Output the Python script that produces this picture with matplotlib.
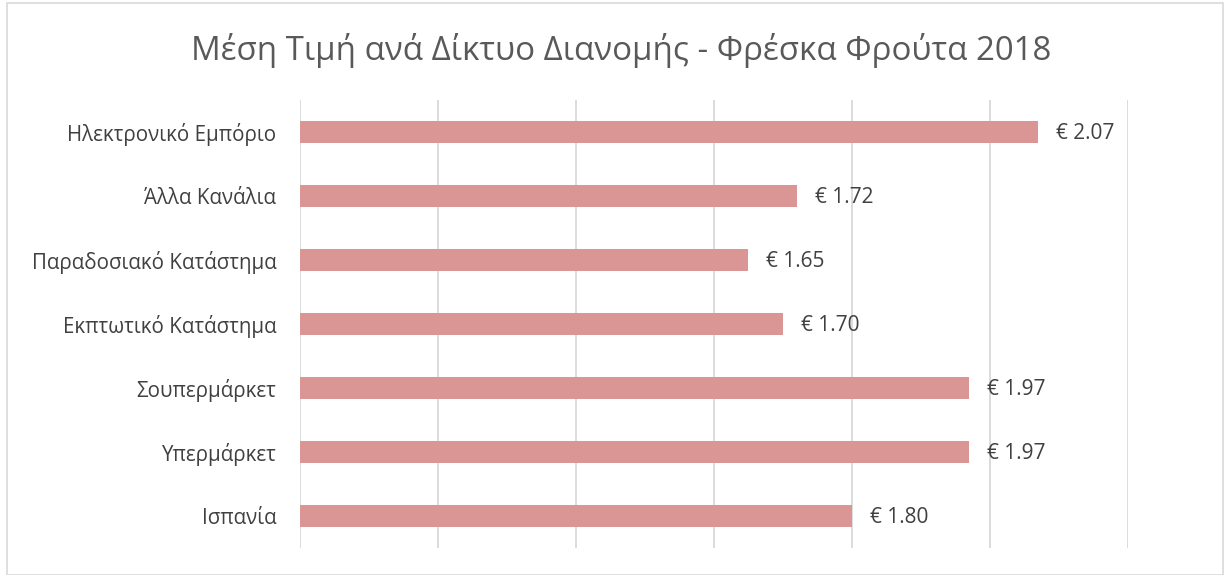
import matplotlib
matplotlib.use("Agg")
import matplotlib.pyplot as plt
from matplotlib.patches import Rectangle

plt.rcParams['font.family'] = ['Open Sans', 'DejaVu Sans']

# Data (top to bottom as shown)
channels = ["Ηλεκτρονικό Εμπόριο", "Άλλα Κανάλια", "Παραδοσιακό Κατάστημα",
            "Εκπτωτικό Κατάστημα", "Σουπερμάρκετ", "Υπερμάρκετ", "Ισπανία"]
prices = [2.07, 1.72, 1.65, 1.70, 1.97, 1.97, 1.80]

fig = plt.figure(figsize=(12.3, 5.75), dpi=100)
ax = fig.add_axes([300 / 1230, 27 / 575, 828 / 1230, 448 / 575])

ypos = list(range(len(channels)))[::-1]
ax.barh(ypos, [p - 1.0 for p in prices], left=1.0, height=0.34,
        color="#DA9694", zorder=3)
for y, p in zip(ypos, prices):
    ax.text(p + 0.026, y - 0.02, f"€ {p:.2f}", va="center", ha="left",
            fontsize=15, color="#404040")

ax.set_xlim(1.0, 2.2)
ax.set_ylim(-0.5, len(channels) - 0.5)
ax.set_xticks([1.0, 1.2, 1.4, 1.6, 1.8, 2.0, 2.2])
ax.set_xticklabels([])
ax.tick_params(axis="x", length=0)
ax.tick_params(axis="y", length=0, pad=17, labelsize=14.8, labelcolor="#404040")
ax.set_yticks(ypos)
ax.set_yticklabels(channels)
ax.grid(axis="x", color="#D9D9D9", linewidth=1.3, zorder=0)
for s in ax.spines.values():
    s.set_visible(False)

fig.text(0.505, 1 - 50 / 575, "Μέση Τιμή ανά Δίκτυο Διανομής - Φρέσκα Φρούτα 2018",
         ha="center", va="center", fontsize=23.8, color="#595959")

fig.patches.append(Rectangle((7 / 1230, 0), 1216 / 1230, 1 - 3 / 575,
                             transform=fig.transFigure, fill=False,
                             edgecolor="#D9D9D9", linewidth=1.2))

fig.savefig("out.png", dpi=100)
